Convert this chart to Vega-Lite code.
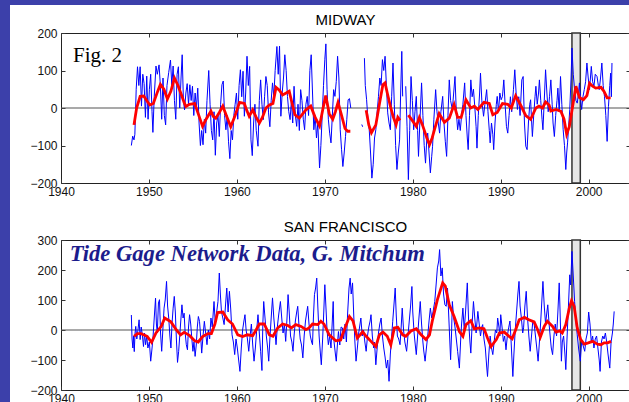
{
"$schema": "https://vega.github.io/schema/vega-lite/v6.json",
"background": "white",
"padding": 0,
"spacing": 0,
"config": {
  "view": {"stroke": "#222", "strokeWidth": 1},
  "axis": {"labelFont": "Liberation Sans", "labelFontSize": 12, "labelColor": "#111", "tickColor": "#333", "tickWidth": 1, "domain": false, "grid": false, "labelFlush": false}
},
"datasets": {
"mb": [
{"t":1948.00,"v":-100},{"t":1948.15,"v":-75},{"t":1948.30,"v":-85},{"t":1948.40,"v":-70},{"t":1948.55,"v":50},{"t":1948.70,"v":110},{"t":1948.85,"v":60},{"t":1949.00,"v":110},{"t":1949.15,"v":5},{"t":1949.30,"v":90},{"t":1949.45,"v":65},{"t":1949.60,"v":-25},{"t":1949.75,"v":85},{"t":1949.90,"v":-30},
{"t":1950.05,"v":50},{"t":1950.20,"v":90},{"t":1950.35,"v":-10},{"t":1950.45,"v":-65},{"t":1950.60,"v":30},{"t":1950.80,"v":112},{"t":1950.95,"v":90},{"t":1951.15,"v":115},{"t":1951.30,"v":60},{"t":1951.45,"v":-30},{"t":1951.60,"v":80},{"t":1951.75,"v":-20},{"t":1951.90,"v":-45},
{"t":1952.05,"v":60},{"t":1952.25,"v":95},{"t":1952.45,"v":128},{"t":1952.60,"v":60},{"t":1952.75,"v":112},{"t":1952.90,"v":20},{"t":1953.05,"v":-30},{"t":1953.20,"v":90},{"t":1953.35,"v":110},{"t":1953.50,"v":0},{"t":1953.65,"v":80},{"t":1953.78,"v":142},{"t":1953.92,"v":20},
{"t":1954.05,"v":-5},{"t":1954.20,"v":40},{"t":1954.35,"v":65},{"t":1954.50,"v":10},{"t":1954.65,"v":62},{"t":1954.80,"v":20},{"t":1954.95,"v":58},{"t":1955.10,"v":-20},{"t":1955.25,"v":40},{"t":1955.40,"v":0},{"t":1955.55,"v":53},{"t":1955.70,"v":-40},{"t":1955.85,"v":-100},
{"t":1956.00,"v":-60},{"t":1956.15,"v":-98},{"t":1956.30,"v":-30},{"t":1956.45,"v":-67},{"t":1956.60,"v":20},{"t":1956.80,"v":100},{"t":1956.95,"v":10},{"t":1957.10,"v":-60},{"t":1957.25,"v":-85},{"t":1957.40,"v":-10},{"t":1957.55,"v":-126},{"t":1957.70,"v":-40},{"t":1957.85,"v":-20},
{"t":1958.00,"v":-76},{"t":1958.15,"v":10},{"t":1958.30,"v":62},{"t":1958.45,"v":72},{"t":1958.60,"v":-20},{"t":1958.75,"v":-58},{"t":1958.90,"v":-20},{"t":1959.05,"v":-90},{"t":1959.20,"v":-135},{"t":1959.35,"v":-60},{"t":1959.50,"v":-85},{"t":1959.65,"v":-20},{"t":1959.80,"v":10},{"t":1959.95,"v":40},
{"t":1960.10,"v":-30},{"t":1960.25,"v":60},{"t":1960.40,"v":102},{"t":1960.55,"v":30},{"t":1960.70,"v":98},{"t":1960.85,"v":-22},{"t":1961.00,"v":40},{"t":1961.15,"v":138},{"t":1961.30,"v":60},{"t":1961.45,"v":111},{"t":1961.60,"v":-85},{"t":1961.75,"v":-127},{"t":1961.90,"v":-40},
{"t":1962.05,"v":10},{"t":1962.20,"v":-60},{"t":1962.40,"v":-102},{"t":1962.55,"v":20},{"t":1962.70,"v":75},{"t":1962.85,"v":10},{"t":1963.00,"v":-31},{"t":1963.15,"v":30},{"t":1963.30,"v":84},{"t":1963.45,"v":60},{"t":1963.60,"v":-13},{"t":1963.75,"v":-50},{"t":1963.90,"v":20},
{"t":1964.05,"v":67},{"t":1964.20,"v":30},{"t":1964.35,"v":100},{"t":1964.55,"v":164},{"t":1964.70,"v":90},{"t":1964.85,"v":165},{"t":1965.00,"v":-22},{"t":1965.15,"v":40},{"t":1965.30,"v":80},{"t":1965.45,"v":142},{"t":1965.60,"v":100},{"t":1965.75,"v":31},{"t":1965.90,"v":-10},
{"t":1966.05,"v":-31},{"t":1966.20,"v":20},{"t":1966.35,"v":-40},{"t":1966.50,"v":58},{"t":1966.65,"v":-20},{"t":1966.80,"v":-49},{"t":1966.95,"v":10},{"t":1967.10,"v":-60},{"t":1967.25,"v":49},{"t":1967.40,"v":20},{"t":1967.55,"v":-30},{"t":1967.70,"v":-58},{"t":1967.85,"v":10},
{"t":1968.00,"v":31},{"t":1968.15,"v":-20},{"t":1968.30,"v":100},{"t":1968.45,"v":142},{"t":1968.60,"v":40},{"t":1968.75,"v":-58},{"t":1968.90,"v":-20},{"t":1969.05,"v":-80},{"t":1969.20,"v":-40},{"t":1969.40,"v":-160},{"t":1969.55,"v":-100},{"t":1969.70,"v":-20},{"t":1969.85,"v":60},
{"t":1970.00,"v":130},{"t":1970.12,"v":171},{"t":1970.25,"v":50},{"t":1970.40,"v":-30},{"t":1970.55,"v":-67},{"t":1970.70,"v":-93},{"t":1970.85,"v":-22},{"t":1971.00,"v":49},{"t":1971.15,"v":31},{"t":1971.30,"v":71},{"t":1971.45,"v":138},{"t":1971.60,"v":80},{"t":1971.75,"v":-58},{"t":1971.90,"v":-110},
{"t":1972.05,"v":-156},{"t":1972.20,"v":-120},{"t":1972.35,"v":-76},{"t":1972.50,"v":-30},{"t":1972.65,"v":22},{"t":1972.80,"v":25},{"t":1972.95,"v":0},{"t":1973.50,"v":null},
{"t":1974.20,"v":-44},{"t":1974.30,"v":-50},{"t":1974.40,"v":null},
{"t":1974.50,"v":133},{"t":1974.60,"v":60},{"t":1974.75,"v":22},{"t":1974.90,"v":-30},{"t":1975.05,"v":-58},{"t":1975.20,"v":-120},{"t":1975.35,"v":-187},{"t":1975.50,"v":-150},{"t":1975.65,"v":-80},{"t":1975.80,"v":-58},{"t":1975.95,"v":-10},
{"t":1976.10,"v":31},{"t":1976.25,"v":80},{"t":1976.40,"v":60},{"t":1976.55,"v":129},{"t":1976.70,"v":100},{"t":1976.85,"v":138},{"t":1977.00,"v":60},{"t":1977.15,"v":-13},{"t":1977.30,"v":-40},{"t":1977.45,"v":-58},{"t":1977.60,"v":30},{"t":1977.75,"v":120},{"t":1977.90,"v":10},
{"t":1978.05,"v":-100},{"t":1978.20,"v":-164},{"t":1978.35,"v":-120},{"t":1978.50,"v":-85},{"t":1978.62,"v":40},{"t":1978.75,"v":151},{"t":1978.85,"v":31},{"t":1979.00,"v":null},
{"t":1979.20,"v":58},{"t":1979.35,"v":-50},{"t":1979.50,"v":-191},{"t":1979.65,"v":-60},{"t":1979.80,"v":84},{"t":1979.95,"v":20},{"t":1980.10,"v":-58},{"t":1980.25,"v":-10},{"t":1980.40,"v":31},{"t":1980.55,"v":-60},{"t":1980.65,"v":-129},{"t":1980.80,"v":-40},
{"t":1981.00,"v":67},{"t":1981.15,"v":-20},{"t":1981.30,"v":-100},{"t":1981.45,"v":-147},{"t":1981.60,"v":-80},{"t":1981.70,"v":-67},{"t":1981.85,"v":-120},{"t":1982.00,"v":-173},{"t":1982.15,"v":-130},{"t":1982.25,"v":-102},{"t":1982.40,"v":-30},{"t":1982.60,"v":49},{"t":1982.75,"v":-10},{"t":1982.90,"v":-40},
{"t":1983.05,"v":-67},{"t":1983.20,"v":-10},{"t":1983.40,"v":31},{"t":1983.55,"v":-40},{"t":1983.70,"v":-90},{"t":1983.85,"v":-129},{"t":1984.00,"v":-20},{"t":1984.15,"v":75},{"t":1984.30,"v":20},{"t":1984.50,"v":-4},{"t":1984.65,"v":40},{"t":1984.80,"v":84},{"t":1984.95,"v":-10},
{"t":1985.10,"v":-58},{"t":1985.25,"v":-30},{"t":1985.40,"v":-60},{"t":1985.55,"v":-20},{"t":1985.70,"v":10},{"t":1985.90,"v":67},{"t":1986.05,"v":-20},{"t":1986.20,"v":-80},{"t":1986.30,"v":-111},{"t":1986.45,"v":-20},{"t":1986.60,"v":75},{"t":1986.75,"v":30},{"t":1986.90,"v":50},
{"t":1987.05,"v":4},{"t":1987.20,"v":-50},{"t":1987.30,"v":-107},{"t":1987.45,"v":-20},{"t":1987.60,"v":40},{"t":1987.70,"v":93},{"t":1987.85,"v":20},{"t":1988.05,"v":-22},{"t":1988.20,"v":10},{"t":1988.40,"v":49},{"t":1988.55,"v":-10},{"t":1988.70,"v":-60},{"t":1988.80,"v":-93},{"t":1988.95,"v":-40},
{"t":1989.10,"v":-70},{"t":1989.20,"v":-111},{"t":1989.35,"v":-40},{"t":1989.50,"v":10},{"t":1989.60,"v":31},{"t":1989.75,"v":-10},{"t":1989.90,"v":40},{"t":1990.05,"v":22},{"t":1990.20,"v":31},{"t":1990.35,"v":75},{"t":1990.50,"v":10},{"t":1990.65,"v":-49},{"t":1990.80,"v":-67},{"t":1990.95,"v":-20},
{"t":1991.10,"v":30},{"t":1991.25,"v":-10},{"t":1991.45,"v":50},{"t":1991.60,"v":102},{"t":1991.75,"v":40},{"t":1991.90,"v":-4},{"t":1992.05,"v":30},{"t":1992.20,"v":-20},{"t":1992.40,"v":75},{"t":1992.55,"v":84},{"t":1992.70,"v":-40},{"t":1992.85,"v":-102},
{"t":1993.00,"v":-111},{"t":1993.15,"v":-40},{"t":1993.30,"v":10},{"t":1993.40,"v":22},{"t":1993.50,"v":-30},{"t":1993.60,"v":-76},{"t":1993.75,"v":-20},{"t":1993.90,"v":30},{"t":1994.00,"v":58},{"t":1994.15,"v":10},{"t":1994.30,"v":40},{"t":1994.40,"v":75},{"t":1994.55,"v":20},{"t":1994.70,"v":-30},{"t":1994.80,"v":-58},{"t":1994.95,"v":20},
{"t":1995.10,"v":102},{"t":1995.25,"v":40},{"t":1995.40,"v":-10},{"t":1995.55,"v":30},{"t":1995.70,"v":75},{"t":1995.85,"v":10},{"t":1995.95,"v":-40},{"t":1996.10,"v":-76},{"t":1996.25,"v":-20},{"t":1996.40,"v":20},{"t":1996.50,"v":53},{"t":1996.65,"v":-10},{"t":1996.80,"v":84},{"t":1996.95,"v":10},
{"t":1997.10,"v":-58},{"t":1997.25,"v":-100},{"t":1997.40,"v":-164},{"t":1997.50,"v":-120},{"t":1997.60,"v":-93},{"t":1997.75,"v":-40},{"t":1997.85,"v":-4},{"t":1998.00,"v":80},{"t":1998.10,"v":160},{"t":1998.25,"v":90},{"t":1998.40,"v":49},{"t":1998.55,"v":20},{"t":1998.70,"v":13},{"t":1998.85,"v":40},{"t":1998.95,"v":67},
{"t":1999.10,"v":20},{"t":1999.20,"v":-4},{"t":1999.35,"v":30},{"t":1999.50,"v":49},{"t":1999.65,"v":70},{"t":1999.80,"v":120},{"t":1999.95,"v":80},{"t":2000.10,"v":49},{"t":2000.20,"v":80},{"t":2000.30,"v":111},{"t":2000.45,"v":70},{"t":2000.60,"v":58},{"t":2000.75,"v":90},{"t":2000.95,"v":84},
{"t":2001.10,"v":60},{"t":2001.20,"v":49},{"t":2001.35,"v":80},{"t":2001.50,"v":120},{"t":2001.65,"v":60},{"t":2001.80,"v":31},{"t":2001.95,"v":-20},{"t":2002.10,"v":-89},{"t":2002.25,"v":4},{"t":2002.40,"v":60},{"t":2002.50,"v":93},{"t":2002.58,"v":30},{"t":2002.65,"v":120}
],
"mr": [
{"t":1948.3,"v":-45},{"t":1948.6,"v":0},{"t":1949.0,"v":31},{"t":1949.4,"v":32},{"t":1949.8,"v":18},{"t":1950.1,"v":8},{"t":1950.5,"v":12},{"t":1951.0,"v":45},{"t":1951.3,"v":63},{"t":1951.7,"v":50},{"t":1952.1,"v":24},{"t":1952.5,"v":45},{"t":1952.9,"v":80},{"t":1953.3,"v":60},{"t":1953.65,"v":38},{"t":1954.0,"v":15},{"t":1954.2,"v":4},{"t":1954.6,"v":10},{"t":1955.2,"v":12},{"t":1955.6,"v":-15},
{"t":1956.1,"v":-49},{"t":1956.5,"v":-30},{"t":1957.05,"v":-8},{"t":1957.3,"v":-22},{"t":1957.6,"v":-27},{"t":1958.0,"v":-12},{"t":1958.4,"v":5},{"t":1958.8,"v":-20},{"t":1959.3,"v":-50},{"t":1959.8,"v":-20},{"t":1960.3,"v":15},{"t":1960.85,"v":12},{"t":1961.1,"v":-5},{"t":1961.4,"v":-22},{"t":1961.8,"v":-5},{"t":1962.2,"v":-25},{"t":1962.55,"v":-40},{"t":1962.9,"v":-25},{"t":1963.3,"v":0},{"t":1963.7,"v":8},
{"t":1964.1,"v":12},{"t":1964.45,"v":55},{"t":1964.8,"v":48},{"t":1965.2,"v":35},{"t":1965.6,"v":40},{"t":1965.95,"v":45},{"t":1966.3,"v":10},{"t":1966.6,"v":-18},{"t":1967.1,"v":-27},{"t":1967.5,"v":-15},{"t":1967.85,"v":-5},{"t":1968.4,"v":5},{"t":1968.9,"v":-25},{"t":1969.4,"v":-48},{"t":1969.8,"v":0},{"t":1970.1,"v":33},{"t":1970.5,"v":-15},{"t":1970.9,"v":-30},{"t":1971.2,"v":-10},{"t":1971.5,"v":15},{"t":1971.85,"v":-15},{"t":1972.3,"v":-55},{"t":1972.6,"v":-62},{"t":1972.9,"v":-62},{"t":1973.8,"v":null},
{"t":1974.7,"v":-6},{"t":1975.0,"v":-45},{"t":1975.3,"v":-66},{"t":1975.8,"v":-45},{"t":1976.2,"v":10},{"t":1976.6,"v":62},{"t":1976.85,"v":67},{"t":1977.1,"v":40},{"t":1977.5,"v":0},{"t":1977.8,"v":-25},{"t":1978.1,"v":-45},{"t":1978.3,"v":-25},{"t":1978.55,"v":-33},{"t":1979.0,"v":null},
{"t":1979.5,"v":-19},{"t":1980.0,"v":-35},{"t":1980.4,"v":-49},{"t":1980.75,"v":-25},{"t":1981.1,"v":-45},{"t":1981.6,"v":-80},{"t":1981.9,"v":-98},{"t":1982.2,"v":-80},{"t":1982.5,"v":-55},{"t":1983.0,"v":-15},{"t":1983.6,"v":-38},{"t":1984.15,"v":-27},{"t":1984.7,"v":9},{"t":1985.1,"v":-25},{"t":1985.5,"v":-25},{"t":1986.05,"v":22},{"t":1986.6,"v":0},{"t":1987.0,"v":5},{"t":1987.4,"v":-4},{"t":1988.1,"v":15},{"t":1988.7,"v":12},{"t":1989.1,"v":-18},{"t":1989.6,"v":-12},
{"t":1990.2,"v":12},{"t":1990.8,"v":10},{"t":1991.2,"v":0},{"t":1991.7,"v":33},{"t":1992.3,"v":6},{"t":1992.85,"v":-20},{"t":1993.4,"v":-30},{"t":1994.0,"v":0},{"t":1994.35,"v":5},{"t":1994.75,"v":0},{"t":1995.1,"v":16},{"t":1995.5,"v":8},{"t":1995.7,"v":-8},{"t":1996.3,"v":-4},{"t":1996.85,"v":-9},{"t":1997.2,"v":-30},{"t":1997.5,"v":-70},{"t":1997.8,"v":-50},{"t":1998.2,"v":8},{"t":1998.55,"v":58},{"t":1998.95,"v":28},{"t":1999.4,"v":22},{"t":1999.8,"v":33},{"t":2000.1,"v":66},{"t":2000.45,"v":58},{"t":2000.8,"v":53},{"t":2001.4,"v":55},{"t":2001.75,"v":44},{"t":2002.1,"v":27},{"t":2002.5,"v":27}
],
"sb": [
{"t":1948.00,"v":50},{"t":1948.08,"v":-30},{"t":1948.17,"v":-60},{"t":1948.25,"v":-20},{"t":1948.33,"v":-72},{"t":1948.42,"v":-10},{"t":1948.50,"v":12},{"t":1948.62,"v":-30},{"t":1948.75,"v":0},{"t":1948.88,"v":34},{"t":1949.00,"v":-32},{"t":1949.12,"v":10},{"t":1949.25,"v":-16},{"t":1949.38,"v":-55},{"t":1949.50,"v":-10},{"t":1949.62,"v":-49},{"t":1949.75,"v":-20},{"t":1949.88,"v":-60},
{"t":1950.05,"v":-40},{"t":1950.20,"v":-104},{"t":1950.32,"v":-70},{"t":1950.45,"v":-30},{"t":1950.58,"v":30},{"t":1950.75,"v":106},{"t":1950.85,"v":20},{"t":1950.95,"v":-10},{"t":1951.08,"v":90},{"t":1951.20,"v":101},{"t":1951.32,"v":-10},{"t":1951.45,"v":-71},{"t":1951.58,"v":0},{"t":1951.72,"v":73},{"t":1951.85,"v":100},
{"t":1952.00,"v":162},{"t":1952.12,"v":80},{"t":1952.25,"v":40},{"t":1952.38,"v":-20},{"t":1952.50,"v":-60},{"t":1952.62,"v":20},{"t":1952.75,"v":73},{"t":1952.88,"v":112},{"t":1953.00,"v":60},{"t":1953.12,"v":-30},{"t":1953.25,"v":-108},{"t":1953.38,"v":-71},{"t":1953.50,"v":-20},{"t":1953.62,"v":30},{"t":1953.75,"v":84},{"t":1953.88,"v":40},
{"t":1954.00,"v":56},{"t":1954.12,"v":-10},{"t":1954.25,"v":-49},{"t":1954.38,"v":-66},{"t":1954.50,"v":10},{"t":1954.62,"v":51},{"t":1954.75,"v":20},{"t":1954.88,"v":-30},{"t":1955.00,"v":-71},{"t":1955.12,"v":-40},{"t":1955.25,"v":-88},{"t":1955.38,"v":-50},{"t":1955.50,"v":10},{"t":1955.62,"v":45},{"t":1955.75,"v":29},{"t":1955.88,"v":-20},
{"t":1956.00,"v":-77},{"t":1956.15,"v":-20},{"t":1956.30,"v":29},{"t":1956.45,"v":-10},{"t":1956.60,"v":-49},{"t":1956.75,"v":0},{"t":1956.90,"v":-30},{"t":1957.05,"v":40},{"t":1957.20,"v":10},{"t":1957.40,"v":95},{"t":1957.55,"v":20},{"t":1957.70,"v":60},{"t":1957.85,"v":95},
{"t":1958.00,"v":190},{"t":1958.12,"v":120},{"t":1958.25,"v":60},{"t":1958.40,"v":40},{"t":1958.55,"v":18},{"t":1958.70,"v":80},{"t":1958.85,"v":140},{"t":1959.00,"v":60},{"t":1959.15,"v":129},{"t":1959.30,"v":70},{"t":1959.45,"v":-16},{"t":1959.60,"v":-40},{"t":1959.75,"v":-82},{"t":1959.90,"v":-30},
{"t":1960.05,"v":-60},{"t":1960.20,"v":-100},{"t":1960.35,"v":-138},{"t":1960.50,"v":-60},{"t":1960.65,"v":0},{"t":1960.80,"v":30},{"t":1960.92,"v":51},{"t":1961.05,"v":0},{"t":1961.20,"v":-30},{"t":1961.35,"v":-71},{"t":1961.50,"v":-20},{"t":1961.65,"v":20},{"t":1961.80,"v":-50},{"t":1961.95,"v":-104},
{"t":1962.10,"v":-60},{"t":1962.25,"v":0},{"t":1962.40,"v":51},{"t":1962.55,"v":-10},{"t":1962.70,"v":-71},{"t":1962.85,"v":-135},{"t":1962.95,"v":20},{"t":1963.05,"v":95},{"t":1963.20,"v":40},{"t":1963.35,"v":-20},{"t":1963.50,"v":-60},{"t":1963.62,"v":-104},{"t":1963.75,"v":-30},{"t":1963.90,"v":40},
{"t":1964.05,"v":107},{"t":1964.20,"v":40},{"t":1964.35,"v":-10},{"t":1964.45,"v":-49},{"t":1964.60,"v":10},{"t":1964.75,"v":50},{"t":1964.95,"v":95},{"t":1965.10,"v":40},{"t":1965.25,"v":-10},{"t":1965.40,"v":20},{"t":1965.55,"v":-38},{"t":1965.70,"v":40},{"t":1965.82,"v":118},{"t":1965.95,"v":60},
{"t":1966.10,"v":-20},{"t":1966.25,"v":-40},{"t":1966.38,"v":-71},{"t":1966.50,"v":-20},{"t":1966.65,"v":30},{"t":1966.80,"v":60},{"t":1966.92,"v":79},{"t":1967.05,"v":20},{"t":1967.20,"v":-30},{"t":1967.35,"v":-50},{"t":1967.50,"v":-93},{"t":1967.65,"v":-20},{"t":1967.80,"v":30},{"t":1967.95,"v":60},
{"t":1968.05,"v":79},{"t":1968.20,"v":20},{"t":1968.35,"v":-20},{"t":1968.50,"v":-40},{"t":1968.60,"v":-49},{"t":1968.70,"v":40},{"t":1968.82,"v":118},{"t":1968.95,"v":140},{"t":1969.08,"v":173},{"t":1969.20,"v":80},{"t":1969.35,"v":-20},{"t":1969.50,"v":-80},{"t":1969.60,"v":-116},{"t":1969.75,"v":-30},{"t":1969.88,"v":60},
{"t":1970.00,"v":151},{"t":1970.12,"v":80},{"t":1970.25,"v":0},{"t":1970.40,"v":-49},{"t":1970.55,"v":-20},{"t":1970.70,"v":-60},{"t":1970.85,"v":30},{"t":1970.95,"v":95},{"t":1971.05,"v":-40},{"t":1971.20,"v":-80},{"t":1971.30,"v":-104},{"t":1971.45,"v":-40},{"t":1971.55,"v":-5},{"t":1971.70,"v":-50},{"t":1971.85,"v":10},
{"t":1972.00,"v":7},{"t":1972.15,"v":-30},{"t":1972.30,"v":20},{"t":1972.45,"v":-40},{"t":1972.60,"v":60},{"t":1972.75,"v":140},{"t":1972.88,"v":173},{"t":1973.00,"v":120},{"t":1973.15,"v":157},{"t":1973.30,"v":40},{"t":1973.42,"v":-40},{"t":1973.55,"v":-104},{"t":1973.70,"v":-60},{"t":1973.85,"v":-10},
{"t":1974.00,"v":20},{"t":1974.10,"v":40},{"t":1974.25,"v":-20},{"t":1974.40,"v":0},{"t":1974.55,"v":-40},{"t":1974.70,"v":-71},{"t":1974.85,"v":-20},{"t":1975.00,"v":10},{"t":1975.15,"v":30},{"t":1975.25,"v":51},{"t":1975.40,"v":-20},{"t":1975.55,"v":-60},{"t":1975.65,"v":-40},{"t":1975.80,"v":-116},{"t":1975.95,"v":-60},
{"t":1976.10,"v":-10},{"t":1976.25,"v":20},{"t":1976.40,"v":40},{"t":1976.55,"v":-20},{"t":1976.70,"v":-60},{"t":1976.85,"v":-90},{"t":1977.00,"v":-127},{"t":1977.15,"v":-100},{"t":1977.30,"v":-171},{"t":1977.45,"v":-80},{"t":1977.60,"v":-20},{"t":1977.72,"v":29},{"t":1977.85,"v":80},
{"t":1978.00,"v":140},{"t":1978.12,"v":50},{"t":1978.25,"v":-20},{"t":1978.40,"v":-30},{"t":1978.55,"v":-49},{"t":1978.68,"v":10},{"t":1978.80,"v":73},{"t":1978.95,"v":0},{"t":1979.10,"v":-40},{"t":1979.30,"v":-71},{"t":1979.45,"v":-20},{"t":1979.60,"v":30},{"t":1979.75,"v":80},{"t":1979.90,"v":145},
{"t":1980.00,"v":60},{"t":1980.15,"v":-10},{"t":1980.25,"v":-40},{"t":1980.40,"v":-82},{"t":1980.55,"v":-20},{"t":1980.70,"v":40},{"t":1980.85,"v":95},{"t":1981.00,"v":20},{"t":1981.15,"v":-40},{"t":1981.25,"v":-70},{"t":1981.40,"v":-104},{"t":1981.55,"v":-60},{"t":1981.70,"v":-20},{"t":1981.85,"v":30},
{"t":1982.00,"v":73},{"t":1982.15,"v":40},{"t":1982.30,"v":60},{"t":1982.50,"v":95},{"t":1982.65,"v":150},{"t":1982.80,"v":207},{"t":1982.95,"v":230},{"t":1983.05,"v":268},{"t":1983.20,"v":180},{"t":1983.35,"v":207},{"t":1983.50,"v":120},{"t":1983.65,"v":84},{"t":1983.80,"v":79},{"t":1983.95,"v":140},
{"t":1984.10,"v":40},{"t":1984.30,"v":-99},{"t":1984.40,"v":-20},{"t":1984.50,"v":95},{"t":1984.65,"v":40},{"t":1984.80,"v":10},{"t":1984.95,"v":-30},{"t":1985.10,"v":-71},{"t":1985.30,"v":-127},{"t":1985.45,"v":-30},{"t":1985.55,"v":20},{"t":1985.70,"v":73},{"t":1985.85,"v":0},
{"t":1986.00,"v":60},{"t":1986.20,"v":157},{"t":1986.35,"v":30},{"t":1986.50,"v":-40},{"t":1986.60,"v":-77},{"t":1986.75,"v":20},{"t":1986.90,"v":95},{"t":1987.05,"v":40},{"t":1987.20,"v":-10},{"t":1987.40,"v":62},{"t":1987.55,"v":20},{"t":1987.70,"v":-20},{"t":1987.85,"v":10},{"t":1987.95,"v":18},
{"t":1988.10,"v":-30},{"t":1988.25,"v":-60},{"t":1988.40,"v":-120},{"t":1988.50,"v":-155},{"t":1988.65,"v":-80},{"t":1988.80,"v":-20},{"t":1988.95,"v":-60},{"t":1989.10,"v":-82},{"t":1989.25,"v":-40},{"t":1989.40,"v":0},{"t":1989.55,"v":-10},{"t":1989.65,"v":40},{"t":1989.80,"v":10},{"t":1989.90,"v":-20},
{"t":1990.00,"v":51},{"t":1990.15,"v":10},{"t":1990.30,"v":-38},{"t":1990.45,"v":-20},{"t":1990.60,"v":-66},{"t":1990.75,"v":-20},{"t":1990.90,"v":7},{"t":1991.05,"v":30},{"t":1991.15,"v":-20},{"t":1991.25,"v":-80},{"t":1991.38,"v":-155},{"t":1991.50,"v":-80},{"t":1991.65,"v":0},{"t":1991.80,"v":60},{"t":1991.95,"v":120},
{"t":1992.08,"v":162},{"t":1992.20,"v":80},{"t":1992.35,"v":40},{"t":1992.50,"v":-10},{"t":1992.60,"v":7},{"t":1992.75,"v":80},{"t":1992.90,"v":129},{"t":1993.05,"v":40},{"t":1993.20,"v":-20},{"t":1993.35,"v":-71},{"t":1993.50,"v":-20},{"t":1993.65,"v":30},{"t":1993.80,"v":20},{"t":1993.95,"v":-20},
{"t":1994.10,"v":-60},{"t":1994.25,"v":-104},{"t":1994.40,"v":-40},{"t":1994.55,"v":30},{"t":1994.68,"v":100},{"t":1994.80,"v":162},{"t":1994.95,"v":80},{"t":1995.10,"v":20},{"t":1995.25,"v":60},{"t":1995.35,"v":84},{"t":1995.50,"v":20},{"t":1995.65,"v":-30},{"t":1995.75,"v":-60},{"t":1995.90,"v":-82},
{"t":1996.05,"v":-20},{"t":1996.20,"v":20},{"t":1996.35,"v":-20},{"t":1996.50,"v":60},{"t":1996.65,"v":157},{"t":1996.75,"v":60},{"t":1996.90,"v":-104},{"t":1997.00,"v":-40},{"t":1997.15,"v":-20},{"t":1997.30,"v":-80},{"t":1997.40,"v":-132},{"t":1997.55,"v":-20},{"t":1997.70,"v":80},{"t":1997.85,"v":184},{"t":1997.95,"v":150},
{"t":1998.10,"v":262},{"t":1998.25,"v":180},{"t":1998.40,"v":95},{"t":1998.55,"v":30},{"t":1998.70,"v":-16},{"t":1998.85,"v":-60},{"t":1999.05,"v":-104},{"t":1999.20,"v":-40},{"t":1999.35,"v":-50},{"t":1999.55,"v":-71},{"t":1999.70,"v":-30},{"t":1999.85,"v":-10},
{"t":2000.00,"v":60},{"t":2000.15,"v":20},{"t":2000.30,"v":-40},{"t":2000.45,"v":-20},{"t":2000.60,"v":-60},{"t":2000.75,"v":-30},{"t":2000.90,"v":-20},{"t":2001.05,"v":-60},{"t":2001.20,"v":-100},{"t":2001.30,"v":-138},{"t":2001.45,"v":-40},{"t":2001.60,"v":-20},{"t":2001.75,"v":-30},{"t":2001.90,"v":-10},
{"t":2002.05,"v":-40},{"t":2002.20,"v":-80},{"t":2002.40,"v":-127},{"t":2002.55,"v":-40},{"t":2002.70,"v":-10},{"t":2002.80,"v":20},{"t":2002.90,"v":62}
],
"sr": [
{"t":1948.3,"v":-21},{"t":1948.7,"v":-12},{"t":1949.1,"v":-12},{"t":1949.8,"v":-21},{"t":1950.3,"v":-41},{"t":1950.8,"v":-10},{"t":1951.4,"v":12},{"t":1951.8,"v":40},{"t":1952.5,"v":27},{"t":1953.1,"v":1},{"t":1953.6,"v":-16},{"t":1954.0,"v":-8},{"t":1954.6,"v":-18},{"t":1955.2,"v":-36},{"t":1955.6,"v":-40},{"t":1956.1,"v":-22},{"t":1956.7,"v":-12},{"t":1957.1,"v":-12},{"t":1957.5,"v":20},{"t":1957.8,"v":58},
{"t":1958.4,"v":60},{"t":1958.95,"v":34},{"t":1959.5,"v":20},{"t":1960.1,"v":-16},{"t":1960.65,"v":-22},{"t":1961.2,"v":-16},{"t":1961.8,"v":-19},{"t":1962.2,"v":1},{"t":1962.55,"v":20},{"t":1963.1,"v":20},{"t":1963.7,"v":-16},{"t":1964.1,"v":-21},{"t":1964.65,"v":7},{"t":1965.2,"v":20},{"t":1965.8,"v":15},{"t":1966.2,"v":7},{"t":1966.7,"v":18},{"t":1967.3,"v":12},{"t":1967.85,"v":1},{"t":1968.2,"v":7},{"t":1968.6,"v":20},{"t":1969.2,"v":18},{"t":1969.55,"v":29},{"t":1969.9,"v":20},
{"t":1970.5,"v":-16},{"t":1971.25,"v":-36},{"t":1971.8,"v":-33},{"t":1972.0,"v":-16},{"t":1972.8,"v":45},{"t":1973.2,"v":30},{"t":1973.7,"v":-27},{"t":1974.3,"v":-6},{"t":1974.7,"v":-21},{"t":1975.25,"v":-38},{"t":1975.8,"v":-55},{"t":1976.2,"v":-16},{"t":1976.6,"v":-7},{"t":1977.1,"v":-21},{"t":1977.5,"v":-50},{"t":1977.9,"v":7},{"t":1978.3,"v":9},{"t":1978.85,"v":-16},{"t":1979.2,"v":-21},{"t":1979.8,"v":-3},
{"t":1980.4,"v":4},{"t":1980.95,"v":-16},{"t":1981.5,"v":-32},{"t":1981.9,"v":-16},{"t":1982.25,"v":34},{"t":1982.8,"v":101},{"t":1983.4,"v":157},{"t":1983.7,"v":146},{"t":1984.15,"v":84},{"t":1984.7,"v":45},{"t":1985.3,"v":-5},{"t":1985.7,"v":-21},{"t":1986.05,"v":18},{"t":1986.6,"v":31},{"t":1987.0,"v":4},{"t":1987.55,"v":7},{"t":1988.1,"v":4},{"t":1988.5,"v":-27},{"t":1988.9,"v":-55},{"t":1989.5,"v":-32},{"t":1989.85,"v":-10},
{"t":1990.4,"v":-7},{"t":1990.95,"v":-21},{"t":1991.3,"v":-29},{"t":1991.7,"v":1},{"t":1992.1,"v":34},{"t":1992.7,"v":42},{"t":1993.2,"v":34},{"t":1993.8,"v":27},{"t":1994.2,"v":1},{"t":1994.5,"v":-24},{"t":1994.95,"v":12},{"t":1995.3,"v":29},{"t":1995.9,"v":12},{"t":1996.3,"v":-7},{"t":1996.7,"v":-3},{"t":1997.0,"v":-10},{"t":1997.4,"v":18},{"t":1997.8,"v":73},{"t":1998.05,"v":98},{"t":1998.35,"v":79},{"t":1998.7,"v":7},
{"t":1999.1,"v":-32},{"t":1999.5,"v":-47},{"t":1999.95,"v":-43},{"t":2000.45,"v":-38},{"t":2001.0,"v":-47},{"t":2001.4,"v":-49},{"t":2001.75,"v":-43},{"t":2002.15,"v":-43},{"t":2002.55,"v":-38}
]
},
"vconcat": [
  {"width": 629, "height": 5, "data": {"values": []}, "mark": "rect", "view": {"fill": "#3c40aa", "stroke": null}},
  {"hconcat": [
    {"width": 10, "height": 397, "data": {"values": []}, "mark": "rect", "view": {"fill": "#3c40aa", "stroke": null}},
    {"vconcat": [
      {"width": 569, "height": 2, "data": {"values": []}, "mark": "rect", "view": {"stroke": null}},
      {
        "width": 569, "height": 150,
        "title": {"text": "MIDWAY", "frame": "group", "anchor": "middle", "offset": -1, "fontSize": 15, "font": "Liberation Sans", "fontWeight": "normal", "color": "#000"},
        "layer": [
          {"data": {"values": [{"a": 1998.1, "b": 1999.05}]},
           "mark": {"type": "rect", "fill": "#e6e6e6", "stroke": "#333", "strokeWidth": 1.5},
           "encoding": {
             "x": {"field": "a", "type": "quantitative", "scale": {"domain": [1940, 2004.7], "nice": false, "zero": false},
                   "axis": {"orient": "top", "labels": false, "tickSize": -4, "values": [1940,1950,1960,1970,1980,1990,2000], "title": null}},
             "x2": {"field": "b"}}},
          {"data": {"values": [{"v": 0}]},
           "mark": {"type": "rule", "color": "#555", "strokeWidth": 1.2},
           "encoding": {"y": {"field": "v", "type": "quantitative", "scale": {"domain": [-200, 200], "nice": false, "zero": false}, "axis": null}}},
          {"data": {"name": "mb"},
           "mark": {"type": "line", "color": "#0000ff", "strokeWidth": 1},
           "encoding": {
             "x": {"field": "t", "type": "quantitative", "axis": {"orient": "bottom", "values": [1940,1950,1960,1970,1980,1990,2000], "format": "d", "tickSize": -4, "labelPadding": 7, "minExtent": 30.5, "title": null}},
             "y": {"field": "v", "type": "quantitative", "axis": {"orient": "left", "values": [-200,-100,0,100,200], "tickSize": -4, "labelPadding": 8, "minExtent": 50, "title": null}}}},
          {"data": {"name": "mr"},
           "mark": {"type": "line", "color": "#ff0000", "strokeWidth": 2.8},
           "encoding": {
             "x": {"field": "t", "type": "quantitative", "axis": null},
             "y": {"field": "v", "type": "quantitative", "axis": {"orient": "right", "values": [-200,-100,0,100,200], "labels": false, "tickSize": -4, "title": null}}}},
          {"data": {"values": [{"t": 1941.36, "v": 124, "s": "Fig. 2"}]},
           "mark": {"type": "text", "align": "left", "baseline": "alphabetic", "font": "Liberation Serif", "fontSize": 21, "color": "#000"},
           "encoding": {
             "x": {"field": "t", "type": "quantitative", "axis": null},
             "y": {"field": "v", "type": "quantitative", "axis": null},
             "text": {"field": "s"}}}
        ],
        "resolve": {"axis": {"x": "independent", "y": "independent"}}
      },
      {
        "width": 569, "height": 150,
        "title": {"text": "SAN FRANCISCO", "frame": "group", "anchor": "middle", "offset": -1, "fontSize": 15, "font": "Liberation Sans", "fontWeight": "normal", "color": "#000"},
        "layer": [
          {"data": {"values": [{"a": 1998.1, "b": 1999.05}]},
           "mark": {"type": "rect", "fill": "#e6e6e6", "stroke": "#333", "strokeWidth": 1.5},
           "encoding": {
             "x": {"field": "a", "type": "quantitative", "scale": {"domain": [1940, 2004.7], "nice": false, "zero": false},
                   "axis": {"orient": "top", "labels": false, "tickSize": -4, "values": [1940,1950,1960,1970,1980,1990,2000], "title": null}},
             "x2": {"field": "b"}}},
          {"data": {"values": [{"v": 0}]},
           "mark": {"type": "rule", "color": "#555", "strokeWidth": 1.2},
           "encoding": {"y": {"field": "v", "type": "quantitative", "scale": {"domain": [-200, 300], "nice": false, "zero": false}, "axis": null}}},
          {"data": {"name": "sb"},
           "mark": {"type": "line", "color": "#0000ff", "strokeWidth": 1},
           "encoding": {
             "x": {"field": "t", "type": "quantitative", "axis": {"orient": "bottom", "values": [1940,1950,1960,1970,1980,1990,2000], "format": "d", "tickSize": -4, "labelPadding": 7, "title": null}},
             "y": {"field": "v", "type": "quantitative", "axis": {"orient": "left", "values": [-200,-100,0,100,200,300], "tickSize": -4, "labelPadding": 8, "minExtent": 50, "title": null}}}},
          {"data": {"name": "sr"},
           "mark": {"type": "line", "color": "#ff0000", "strokeWidth": 2.8},
           "encoding": {
             "x": {"field": "t", "type": "quantitative", "axis": null},
             "y": {"field": "v", "type": "quantitative", "axis": {"orient": "right", "values": [-200,-100,0,100,200,300], "labels": false, "tickSize": -4, "title": null}}}},
          {"data": {"values": [{"t": 1941.0, "v": 229, "s": "Tide Gage Network Data, G. Mitchum"}]},
           "mark": {"type": "text", "align": "left", "baseline": "alphabetic", "font": "Liberation Serif", "fontSize": 22.6, "fontStyle": "italic", "fontWeight": "bold", "color": "#1c1c8c"},
           "encoding": {
             "x": {"field": "t", "type": "quantitative", "axis": null},
             "y": {"field": "v", "type": "quantitative", "axis": null},
             "text": {"field": "s"}}}
        ],
        "resolve": {"axis": {"x": "independent", "y": "independent"}}
      }
    ], "spacing": 5}
  ], "spacing": 0}
]
}
